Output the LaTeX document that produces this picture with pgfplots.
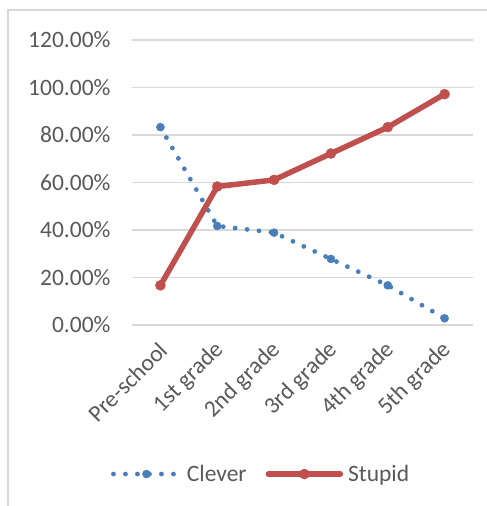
\documentclass[border=0pt]{standalone}
\usepackage{pgfplots}
\pgfplotsset{compat=1.18}
\usepackage{fontspec}
\setmainfont{Carlito}
\definecolor{cblue}{HTML}{4A7EBB}
\definecolor{cred}{HTML}{C0504D}
\definecolor{cgrid}{HTML}{D9D9D9}
\definecolor{ctext}{HTML}{595959}
\pgfplotsset{
  legA/.style={legend image code/.code={\draw[##1, mark repeat=2, mark phase=2] plot coordinates {(0pt,0pt) (33pt,0pt) (66pt,0pt)};}},
  legB/.style={legend image code/.code={\draw[##1, mark repeat=2, mark phase=2] plot coordinates {(0pt,0pt) (36pt,0pt) (72pt,0pt)};}},
}
\begin{document}
\begin{tikzpicture}[x=1pt,y=1pt]
\path[use as bounding box] (0,0) rectangle (487,506);
\draw[cgrid, line width=1.5pt] (8,0) -- (8,496) -- (487,496);
\begin{axis}[
  at={(132pt,181pt)}, anchor=south west,
  width=341pt, height=285pt, scale only axis,
  xmin=-0.5, xmax=5.5, ymin=0, ymax=1.2,
  axis line style={draw=none},
  major tick length=0pt,
  ytick={0,0.2,0.4,0.6,0.8,1.0,1.2},
  yticklabels={0.00\%,20.00\%,40.00\%,60.00\%,80.00\%,100.00\%,120.00\%},
  xtick={0,1,2,3,4,5},
  xticklabels={Pre-school,1st grade,2nd grade,3rd grade,4th grade,5th grade},
  ymajorgrids, grid style={cgrid, line width=1.4pt},
  tick label style={font=\fontsize{23.5}{27}\selectfont, text=ctext},
  yticklabel style={anchor=east, xshift=-18pt},
  xticklabel style={anchor=east, xshift=5pt, yshift=-19pt, rotate=45},
  clip=false,
  legend columns=2,
  legend style={at={(axis description cs:-0.062,-0.523)}, anchor=west, draw=none, fill=none, inner sep=0pt,
    font=\fontsize{23.5}{27}\selectfont, text=ctext,
    /tikz/every odd column/.append style={column sep=3pt},
    /tikz/every even column/.append style={column sep=17pt}},
]
\addplot[cblue, line width=4.8pt, line cap=round, dash pattern=on 0pt off 12pt,
  mark=*, mark size=4pt, mark options={solid, fill=cblue, line width=0.5pt}, legA]
  coordinates {(0,0.833) (1,0.417) (2,0.389) (3,0.278) (4,0.167) (5,0.028)};
\addlegendentry{Clever}
\addplot[cred, line width=5.5pt, line join=round, line cap=round,
  mark=*, mark size=5pt, mark options={solid, fill=cred, line width=0.5pt}, legB]
  coordinates {(0,0.167) (1,0.583) (2,0.611) (3,0.722) (4,0.833) (5,0.972)};
\addlegendentry{Stupid}
\end{axis}
\end{tikzpicture}
\end{document}
